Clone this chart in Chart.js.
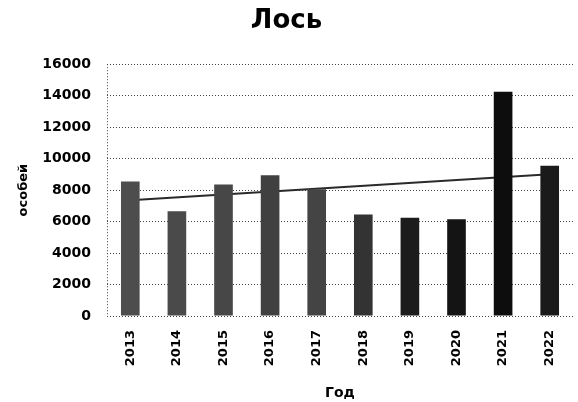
<!DOCTYPE html>
<html>
<head>
<meta charset="utf-8">
<script src="https://cdn.jsdelivr.net/npm/chart.js@4/dist/chart.umd.min.js"></script>
<style>
  html, body { margin: 0; padding: 0; background: #fff; }
  #chart { display: block; }
</style>
</head>
<body>
<canvas id="chart" width="578" height="402"></canvas>
<script>
// data
const years = ['2013', '2014', '2015', '2016', '2017', '2018', '2019', '2020', '2021', '2022'];
const counts = [8550, 6650, 8350, 8950, 8050, 6450, 6250, 6150, 14250, 9550];
const trendEnds = [7350, 9000];   // linear trend at 2013 and at 2022
const yTicks = [0, 2000, 4000, 6000, 8000, 10000, 12000, 14000, 16000];

const barColors = ['#4d4d4d', '#4a4a4a', '#474747', '#404040', '#444444', '#333333', '#1c1c1c', '#141414', '#0d0d0d', '#1a1a1a'];
const FONT = 'DejaVu Sans';

const trend = years.map((y, i) => i === 0 ? trendEnds[0] : (i === years.length - 1 ? trendEnds[1] : null));

// dotted left edge of the plot, like the gridlines
const leftEdge = {
  id: 'leftEdge',
  beforeDatasetsDraw(chart) {
    const { ctx, chartArea } = chart;
    ctx.save();
    ctx.strokeStyle = '#444';
    ctx.lineWidth = 1;
    ctx.setLineDash([1, 2]);
    ctx.beginPath();
    ctx.moveTo(Math.round(chartArea.left) + 0.5, chartArea.top);
    ctx.lineTo(Math.round(chartArea.left) + 0.5, chartArea.bottom);
    ctx.stroke();
    ctx.restore();
  }
};

new Chart(document.getElementById('chart'), {
  data: {
    labels: years,
    datasets: [
      {
        type: 'bar',
        data: counts,
        backgroundColor: barColors,
        barPercentage: 0.8,
        categoryPercentage: 0.5,
        order: 0
      },
      {
        type: 'line',
        data: trend,
        spanGaps: true,
        borderColor: '#2a2a2a',
        borderWidth: 2,
        pointRadius: 0,
        order: 1
      }
    ]
  },
  options: {
    responsive: false,
    animation: false,
    devicePixelRatio: 1,
    layout: { padding: { left: 0, right: 5, top: 0, bottom: 0 } },
    plugins: {
      legend: { display: false },
      tooltip: { enabled: false },
      title: {
        display: true,
        text: 'Лось',
        color: '#000',
        font: { family: FONT, size: 26, weight: 'bold' },
        padding: { top: 6, bottom: 27 }
      }
    },
    scales: {
      x: {
        grid: { display: false },
        border: { display: false },
        ticks: {
          color: '#000',
          font: { family: FONT, size: 13, weight: 'bold' },
          minRotation: 90,
          maxRotation: 90,
          padding: 6
        },
        title: {
          display: true,
          text: 'Год',
          color: '#000',
          font: { family: FONT, size: 14, weight: 'bold' },
          padding: { top: 4, bottom: 0 }
        },
        afterFit(scale) { scale.height = 86; }
      },
      y: {
        min: yTicks[0],
        max: yTicks[yTicks.length - 1],
        afterBuildTicks(scale) { scale.ticks = yTicks.map(v => ({ value: v })); },
        grid: { color: '#444', lineWidth: 1, drawTicks: false },
        border: { display: false, dash: [1, 2] },
        ticks: {
          color: '#000',
          font: { family: FONT, size: 14, weight: 'bold' },
          padding: 16,
          callback: v => String(v)
        },
        title: {
          display: true,
          text: 'особей',
          color: '#000',
          font: { family: FONT, size: 13, weight: 'bold' },
          padding: { top: 16, bottom: 0 }
        },
        afterFit(scale) { scale.width = 107; }
      }
    }
  },
  plugins: [leftEdge]
});
</script>
</body>
</html>
